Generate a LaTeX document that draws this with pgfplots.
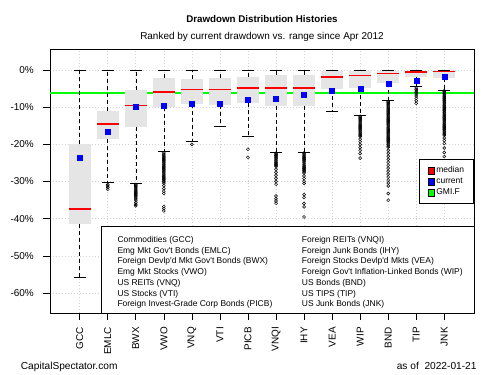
\documentclass[border=0pt]{standalone}
\usepackage{pgfplots}
\usepackage{pgfplotstable}
\pgfplotsset{compat=1.18}
\usepackage{fontspec}
\setmainfont{Liberation Sans}
\definecolor{boxgray}{RGB}{229,229,229}
\definecolor{gridgray}{RGB}{211,211,211}
\definecolor{gmigreen}{RGB}{0,255,0}
\definecolor{curblue}{RGB}{0,0,255}
\definecolor{medred}{RGB}{255,0,0}
\pgfplotstableread{
x  q1    q3    bh    uh    lh    lw     uw  med    cur
1  -41.4 -20.0 21.4  20.0  14.3  -55.7  0   -37.4  -23.5
2  -18.7 -11.0 7.7   11.0  11.6  -30.3  0   -14.5  -16.6
3  -15.3 -5.4  9.9   5.4   15.3  -30.6  0   -9.6   -10.0
4  -9.9  -2.1  7.8   2.1   12.1  -22.0  0   -6.0   -9.6
5  -9.3  -2.4  6.9   2.4   9.8   -19.1  0   -5.3   -9.1
6  -9.4  -2.2  7.2   2.2   5.8   -15.2  0   -5.3   -9.0
7  -9.0  -1.8  7.2   1.8   8.9   -17.9  0   -4.8   -8.0
8  -9.6  -1.3  8.3   1.3   12.6  -22.2  0   -4.8   -7.7
9  -9.6  -1.3  8.3   1.3   12.6  -22.2  0   -4.8   -6.6
10 -5.1  -0.4  4.7   0.4   6.1   -11.2  0   -2.0   -5.5
11 -5.0  -0.2  4.8   0.2   7.2   -12.2  0   -1.5   -5.0
12 -3.5  -0.2  3.3   0.2   4.8   -8.3   0   -1.0   -3.8
13 -2.0  -0.2  1.8   0.2   2.5   -4.5   0   -0.6   -2.9
14 -2.3  -0.05 2.25  0.05  3.1   -5.4   0   -0.4   -1.9
}\stats
\pgfplotstableread[row sep=\\]{
x y\\
2 -30.8\\ 2 -31.2\\ 2 -31.6\\ 2 -32.1\\
3 -30.8\\ 3 -31.1\\ 3 -31.4\\ 3 -31.7\\ 3 -32.0\\ 3 -32.3\\ 3 -32.6\\ 3 -32.9\\ 3 -33.2\\ 3 -33.5\\ 3 -33.8\\ 3 -34.1\\ 3 -34.4\\ 3 -34.7\\ 3 -35.0\\ 3 -35.6\\ 3 -36.1\\ 3 -36.5\\
4 -22.3\\ 4 -22.6\\ 4 -22.9\\ 4 -23.2\\ 4 -23.5\\ 4 -23.8\\ 4 -24.1\\ 4 -24.4\\ 4 -24.7\\ 4 -25.0\\ 4 -25.3\\ 4 -25.6\\ 4 -25.9\\ 4 -26.2\\ 4 -26.5\\ 4 -26.8\\ 4 -27.1\\ 4 -27.4\\ 4 -27.7\\ 4 -28.0\\ 4 -28.3\\ 4 -28.6\\ 4 -28.9\\ 4 -29.2\\ 4 -29.5\\ 4 -29.8\\ 4 -30.1\\ 4 -30.4\\ 4 -31.1\\ 4 -31.9\\ 4 -32.6\\ 4 -33.2\\ 4 -36.7\\ 4 -37.3\\ 4 -37.9\\
5 -20.0\\
7 -21.3\\ 7 -23.5\\
8 -22.4\\ 8 -22.7\\ 8 -23.0\\ 8 -23.3\\ 8 -23.6\\ 8 -23.9\\ 8 -24.2\\ 8 -24.5\\ 8 -24.8\\ 8 -25.1\\ 8 -25.4\\ 8 -25.7\\ 8 -26.0\\ 8 -26.7\\ 8 -27.5\\ 8 -28.3\\ 8 -29.1\\ 8 -29.9\\ 8 -30.7\\ 8 -33.9\\ 8 -34.6\\ 8 -35.2\\ 8 -35.8\\
9 -22.3\\ 9 -22.6\\ 9 -22.9\\ 9 -23.2\\ 9 -23.5\\ 9 -23.8\\ 9 -24.1\\ 9 -24.4\\ 9 -24.7\\ 9 -25.0\\ 9 -25.3\\ 9 -25.6\\ 9 -25.9\\ 9 -26.2\\ 9 -26.5\\ 9 -26.8\\ 9 -27.1\\ 9 -27.4\\ 9 -27.7\\ 9 -28.5\\ 9 -29.2\\ 9 -29.9\\ 9 -30.5\\ 9 -33.5\\ 9 -34.3\\ 9 -35.9\\ 9 -36.8\\ 9 -39.5\\
11 -12.5\\ 11 -12.8\\ 11 -13.1\\ 11 -13.4\\ 11 -13.7\\ 11 -14.0\\ 11 -14.3\\ 11 -14.6\\ 11 -14.9\\ 11 -15.2\\ 11 -15.5\\ 11 -15.8\\ 11 -16.1\\ 11 -16.4\\ 11 -16.7\\ 11 -17.0\\ 11 -17.3\\ 11 -17.6\\ 11 -17.9\\ 11 -18.6\\ 11 -19.3\\ 11 -20.1\\ 11 -20.9\\ 11 -21.6\\ 11 -22.5\\ 11 -23.7\\
12 -8.5\\ 12 -8.8\\ 12 -9.1\\ 12 -9.4\\ 12 -9.7\\ 12 -10.0\\ 12 -10.3\\ 12 -10.6\\ 12 -10.9\\ 12 -11.2\\ 12 -11.5\\ 12 -11.8\\ 12 -12.1\\ 12 -12.4\\ 12 -12.7\\ 12 -13.0\\ 12 -13.3\\ 12 -13.6\\ 12 -13.9\\ 12 -14.2\\ 12 -14.5\\ 12 -14.8\\ 12 -15.1\\ 12 -15.4\\ 12 -15.7\\ 12 -16.0\\ 12 -16.3\\ 12 -16.6\\ 12 -16.9\\ 12 -17.2\\ 12 -17.5\\ 12 -17.8\\ 12 -18.1\\ 12 -18.4\\ 12 -18.7\\ 12 -19.0\\ 12 -19.3\\ 12 -19.6\\ 12 -19.9\\ 12 -20.2\\ 12 -20.5\\ 12 -20.8\\ 12 -21.6\\ 12 -22.4\\ 12 -23.2\\ 12 -24.0\\ 12 -24.8\\ 12 -25.6\\ 12 -26.4\\ 12 -27.2\\ 12 -28.0\\ 12 -28.8\\ 12 -29.6\\ 12 -30.4\\ 12 -31.2\\ 12 -33.2\\ 12 -35.0\\
13 -4.9\\ 13 -5.3\\ 13 -5.7\\ 13 -6.1\\ 13 -6.5\\ 13 -7.0\\ 13 -7.6\\ 13 -8.3\\ 13 -9.0\\
14 -5.6\\ 14 -5.9\\ 14 -6.2\\ 14 -6.5\\ 14 -6.8\\ 14 -7.1\\ 14 -7.4\\ 14 -7.7\\ 14 -8.0\\ 14 -8.3\\ 14 -8.6\\ 14 -8.9\\ 14 -9.2\\ 14 -9.5\\ 14 -9.8\\ 14 -10.1\\ 14 -10.4\\ 14 -10.7\\ 14 -11.0\\ 14 -11.3\\ 14 -11.6\\ 14 -11.9\\ 14 -12.2\\ 14 -12.5\\ 14 -12.8\\ 14 -13.1\\ 14 -13.4\\ 14 -13.7\\ 14 -14.0\\ 14 -14.3\\ 14 -14.6\\ 14 -14.9\\ 14 -15.2\\ 14 -15.5\\ 14 -15.8\\ 14 -16.1\\ 14 -16.4\\ 14 -16.7\\ 14 -17.0\\ 14 -17.3\\ 14 -17.6\\ 14 -18.3\\ 14 -19.0\\ 14 -19.8\\ 14 -21.0\\ 14 -22.2\\ 14 -23.3\\
}\outliers
\pgfplotsset{
  ebar/.style={forget plot, draw=none, mark=none, no markers},
}
\begin{document}
\begin{tikzpicture}
\path[use as bounding box, fill=white] (0bp,0bp) rectangle (500bp,375bp);
\begin{axis}[
  at={(50bp,62bp)}, anchor=south west,
  scale only axis, width=424bp, height=264bp,
  xmin=-0.06, xmax=15.06, ymin=-65.3, ymax=5.6,
  axis line style={black, line width=0.8bp},
  tick align=outside, tick pos=left,
  major tick length=7bp,
  tick style={black, line width=0.7bp},
  xtick={1,...,14},
  xticklabels={GCC,EMLC,BWX,VWO,VNQ,VTI,PICB,VNQI,IHY,VEA,WIP,BND,TIP,JNK},
  ytick={-60,-50,-40,-30,-20,-10,0},
  yticklabels={-60\%,-50\%,-40\%,-30\%,-20\%,-10\%,0\%},
  ticklabel style={font=\fontsize{10}{12}\selectfont, inner sep=0pt},
  xticklabel style={rotate=90, anchor=east},
  yticklabel style={anchor=east},
  xticklabel shift=7bp,
  yticklabel shift=9bp,
  grid=major,
  major grid style={gridgray, line width=0.7bp, dash pattern=on 1bp off 2bp},
  unbounded coords=jump,
  legend image code/.code={\draw[#1, draw=black, line width=0.5bp] (0bp,-3.3bp) rectangle (6.6bp,3.3bp);},
  legend style={at={(1,0.582)}, anchor=north east, draw=black, fill=white,
    line width=0.7bp,
    font=\fontsize{8.5}{10}\selectfont, inner xsep=8bp, inner ysep=5.5bp,
    nodes={inner sep=1.5bp, text height=6bp, text depth=1.5bp}, row sep=0.5bp},
  legend cell align=left,
]
% GMI.F line
\addplot[forget plot, gmigreen, line width=1.3bp] coordinates {(-0.06,-6.2) (15.06,-6.2)};
% boxes (lower to upper quartile)
\addplot[ebar,
  error bars/.cd, y dir=plus, y explicit, error mark=none,
  error bar style={draw=boxgray, line width=22.4bp, solid}]
  table[x=x, y=q1, y error plus=bh] {\stats};
% upper whiskers
\addplot[ebar,
  error bars/.cd, y dir=plus, y explicit, error mark=none,
  error bar style={draw=black, line width=0.6bp, dash pattern=on 4bp off 3bp}]
  table[x=x, y=q3, y error plus=uh] {\stats};
% lower whiskers
\addplot[ebar,
  error bars/.cd, y dir=minus, y explicit, error mark=none,
  error bar style={draw=black, line width=0.6bp, dash pattern=on 4bp off 3bp}]
  table[x=x, y=q1, y error minus=lh] {\stats};
% whisker caps
\addplot[ebar,
  error bars/.cd, x dir=both, x fixed=0.22, error mark=none,
  error bar style={draw=black, line width=0.6bp, solid}]
  table[x=x, y=uw] {\stats};
\addplot[ebar,
  error bars/.cd, x dir=both, x fixed=0.22, error mark=none,
  error bar style={draw=black, line width=0.6bp, solid}]
  table[x=x, y=lw] {\stats};
% medians
\addplot[forget plot, medred, line width=1.6bp, solid, mark=none] coordinates {
 (0.6,-37.4) (1.4,-37.4) (1,nan)
 (1.6,-14.5) (2.4,-14.5) (2,nan)
 (2.6,-9.6) (3.4,-9.6) (3,nan)
 (3.6,-6.0) (4.4,-6.0) (4,nan)
 (4.6,-5.3) (5.4,-5.3) (5,nan)
 (5.6,-5.3) (6.4,-5.3) (6,nan)
 (6.6,-4.8) (7.4,-4.8) (7,nan)
 (7.6,-4.8) (8.4,-4.8) (8,nan)
 (8.6,-4.8) (9.4,-4.8) (9,nan)
 (9.6,-2.0) (10.4,-2.0) (10,nan)
 (10.6,-1.5) (11.4,-1.5) (11,nan)
 (11.6,-1.0) (12.4,-1.0) (12,nan)
 (12.6,-0.6) (13.4,-0.6) (13,nan)
 (13.6,-0.4) (14.4,-0.4)
};
% outliers
\addplot[forget plot, only marks, mark=o, mark size=1.5bp,
  mark options={solid, draw=black, line width=0.5bp}]
  table[x=x, y=y] {\outliers};
% current drawdown
\addplot[forget plot, only marks, mark=square*, mark size=2.5bp,
  mark options={solid, fill=curblue, draw=curblue, line width=0.3bp}]
  table[x=x, y=cur] {\stats};

\addlegendimage{fill=medred}
\addlegendentry{median}
\addlegendimage{fill=curblue}
\addlegendentry{current}
\addlegendimage{fill=gmigreen}
\addlegendentry{GMI.F}
\end{axis}
% asset name box
\draw[fill=white, line width=0.8bp] (101.7bp,62bp) rectangle (474bp,148.3bp);
\node[anchor=north west, inner sep=0pt] at (117.3bp,140.3bp) {\fontsize{8.5}{10.8}\selectfont
\begin{tabular}{@{}l@{}}
Commodities (GCC)\\
Emg Mkt Gov\textquotesingle t Bonds (EMLC)\\
Foreign Devlp\textquotesingle d Mkt Gov\textquotesingle t Bonds (BWX)\\
Emg Mkt Stocks (VWO)\\
US REITs (VNQ)\\
US Stocks (VTI)\\
Foreign Invest-Grade Corp Bonds (PICB)
\end{tabular}};
\node[anchor=north west, inner sep=0pt] at (301.7bp,140.3bp) {\fontsize{8.5}{10.8}\selectfont
\begin{tabular}{@{}l@{}}
Foreign REITs (VNQI)\\
Foreign Junk Bonds (IHY)\\
Foreign Stocks Devlp\textquotesingle d Mkts (VEA)\\
Foreign Gov\textquotesingle t Inflation-Linked Bonds (WIP)\\
US Bonds (BND)\\
US TIPS (TIP)\\
US Junk Bonds (JNK)
\end{tabular}};
% titles
\node[anchor=base, inner sep=0pt, font=\fontsize{9.8}{12}\selectfont\bfseries] at (262bp,352bp) {Drawdown Distribution Histories};
\node[anchor=base, inner sep=0pt, font=\fontsize{10}{12}\selectfont] at (262bp,335.3bp) {Ranked by current drawdown vs. range since Apr 2012};
\node[anchor=base west, inner sep=0pt, font=\fontsize{10.2}{12}\selectfont] at (20.7bp,5.5bp) {CapitalSpectator.com};
\node[anchor=base east, inner sep=0pt, font=\fontsize{10.2}{12}\selectfont] at (476.7bp,5.5bp) {as of\ \ 2022-01-21};
\end{tikzpicture}
\end{document}
